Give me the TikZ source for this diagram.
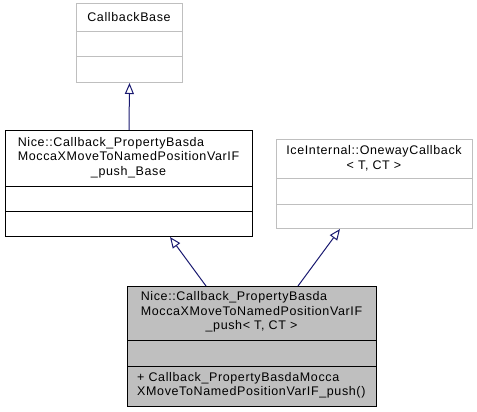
\documentclass[tikz,border=0pt]{standalone}
\usepackage{fontspec}
\setmainfont{Liberation Sans}[LetterSpace=5]
\usetikzlibrary{arrows.meta}
\definecolor{lgray}{HTML}{BFBFBF}
\definecolor{edgec}{HTML}{191970}
\begin{document}
\begin{tikzpicture}[x=1pt,y=-1pt,
  font=\fontsize{12.5}{14.5}\selectfont,
  cls/.style={draw=lgray, line width=1pt, inner sep=0pt, anchor=north west},
  clsdark/.style={draw=black, line width=1pt, inner sep=0pt, anchor=north west},
  txt/.style={inner sep=0pt, text=black},
  inherit/.style={draw=edgec, line width=1pt, -{Triangle[open, length=11pt, width=9pt]}}
]
\useasboundingbox (0,0) rectangle (477,412);

% CallbackBase
\node[cls, minimum width=106pt, minimum height=79pt] (cb) at (76,3) {};
\draw[lgray, line width=1pt] ([yshift=-29pt]cb.north west) -- ([yshift=-29pt]cb.north east);
\draw[lgray, line width=1pt] ([yshift=-54pt]cb.north west) -- ([yshift=-54pt]cb.north east);
\node[txt] (cbt) at (129,17) {CallbackBase};

% Base class
\node[clsdark, minimum width=247pt, minimum height=106pt] (base) at (5,130) {};
\draw[black, line width=1pt] ([yshift=-56pt]base.north west) -- ([yshift=-56pt]base.north east);
\draw[black, line width=1pt] ([yshift=-81pt]base.north west) -- ([yshift=-81pt]base.north east);
\node[txt] (baset) at (128.5,158) {\begin{tabular}{@{}l@{}}Nice::Callback\_PropertyBasda\\MoccaXMoveToNamedPositionVarIF\\\multicolumn{1}{@{}c@{}}{\_push\_Base}\end{tabular}};

% IceInternal::OnewayCallback
\node[cls, minimum width=196pt, minimum height=89pt] (ice) at (276,139) {};
\draw[lgray, line width=1pt] ([yshift=-39pt]ice.north west) -- ([yshift=-39pt]ice.north east);
\draw[lgray, line width=1pt] ([yshift=-65pt]ice.north west) -- ([yshift=-65pt]ice.north east);
\node[txt, align=center] (icet) at (374,158.5) {IceInternal::OnewayCallback\\< T, CT >};

% Bottom class
\node[clsdark, fill=lgray, minimum width=249pt, minimum height=120pt] (bot) at (127,286) {};
\draw[black, line width=1pt] ([yshift=-54pt]bot.north west) -- ([yshift=-54pt]bot.north east);
\draw[black, line width=1pt] ([yshift=-80pt]bot.north west) -- ([yshift=-80pt]bot.north east);
\node[txt] (bott) at (251.5,312.5) {\begin{tabular}{@{}l@{}}Nice::Callback\_PropertyBasda\\MoccaXMoveToNamedPositionVarIF\\\multicolumn{1}{@{}c@{}}{\_push< T, CT >}\end{tabular}};
\node[txt, align=left, anchor=west] (botm) at (137,385.5) {+ Callback\_PropertyBasdaMocca\\XMoveToNamedPositionVarIF\_push()};

% Inheritance
\draw[inherit] (base.north) -- (cb.south);
\draw[inherit] ([xshift=79pt]bot.north west) -- ([xshift=165pt]base.south west);
\draw[inherit] ([xshift=171pt]bot.north west) -- ([xshift=64pt]ice.south west);
\end{tikzpicture}
\end{document}
